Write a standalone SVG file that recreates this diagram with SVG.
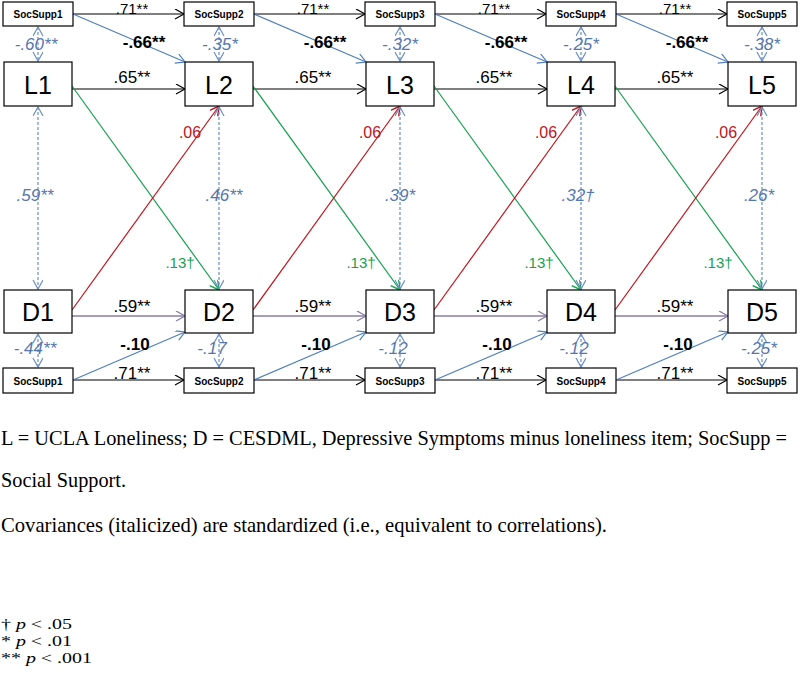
<svg xmlns="http://www.w3.org/2000/svg" width="800" height="681" viewBox="0 0 800 681">
<style>
.box{fill:#fff;stroke:#000;stroke-width:1.2}
.ss{font-family:"Liberation Sans",Arial,sans-serif;font-weight:bold;font-size:10px;text-anchor:middle}
.nd{font-family:"Liberation Sans",Arial,sans-serif;font-size:25px;text-anchor:middle}
.lb{font-family:"Liberation Sans",Arial,sans-serif;font-size:17px;text-anchor:middle;fill:#000}
.lt{font-family:"Liberation Sans",Arial,sans-serif;font-size:15px;text-anchor:middle;fill:#000}
.bd{font-family:"Liberation Sans",Arial,sans-serif;font-size:17px;font-weight:bold;text-anchor:middle;fill:#000}
.cv{font-family:"Liberation Sans",Arial,sans-serif;font-size:17px;font-style:italic;text-anchor:middle;fill:#5677ad}
.rd{font-family:"Liberation Sans",Arial,sans-serif;font-size:16px;text-anchor:middle;fill:#c0141c}
.gr{font-family:"Liberation Sans",Arial,sans-serif;font-size:15px;text-anchor:middle;fill:#16a050}
.tx{font-family:"Liberation Serif","Times New Roman",serif;font-size:21px;fill:#000}
.t1{font-family:"Liberation Serif","Times New Roman",serif;font-size:20px;fill:#000}
.fn{font-family:"Liberation Serif","Times New Roman",serif;font-size:15px;fill:#000}
.k{fill:none;stroke:#000;stroke-width:1.2;marker-end:url(#mk)}
.b{fill:none;stroke:#4f7fbd;stroke-width:1.2;marker-end:url(#mb)}
.g{fill:none;stroke:#17a04e;stroke-width:1.2;marker-end:url(#mg)}
.r{fill:none;stroke:#c0141c;stroke-width:1.2;marker-end:url(#mr)}
.p{fill:none;stroke:#8a7ea6;stroke-width:1.5;marker-end:url(#mp)}
.c{fill:none;stroke:#6a8fc6;stroke-width:1.2;stroke-dasharray:3 2;marker-start:url(#mc);marker-end:url(#mc)}
</style>
<defs>
<marker id="mk" markerUnits="userSpaceOnUse" markerWidth="12" markerHeight="12" refX="10" refY="5" orient="auto"><path d="M1,0 L10,5 L1,10" fill="none" stroke="#000" stroke-width="1.2"/></marker>
<marker id="mb" markerUnits="userSpaceOnUse" markerWidth="12" markerHeight="12" refX="10" refY="5" orient="auto"><path d="M1,0 L10,5 L1,10" fill="none" stroke="#4f7fbd" stroke-width="1.2"/></marker>
<marker id="mg" markerUnits="userSpaceOnUse" markerWidth="12" markerHeight="12" refX="10" refY="5" orient="auto"><path d="M1,0 L10,5 L1,10" fill="none" stroke="#17a04e" stroke-width="1.5"/></marker>
<marker id="mr" markerUnits="userSpaceOnUse" markerWidth="12" markerHeight="12" refX="10" refY="5" orient="auto"><path d="M1,0 L10,5 L1,10" fill="none" stroke="#c0141c" stroke-width="1.5"/></marker>
<marker id="mp" markerUnits="userSpaceOnUse" markerWidth="12" markerHeight="12" refX="10" refY="5" orient="auto"><path d="M1,0 L10,5 L1,10" fill="none" stroke="#8a7ea6" stroke-width="1.3"/></marker>
<marker id="mc" markerUnits="userSpaceOnUse" markerWidth="12" markerHeight="12" refX="10" refY="5" orient="auto-start-reverse"><path d="M1,0 L10,5 L1,10" fill="none" stroke="#6a8fc6" stroke-width="1.2"/></marker>
</defs>

<g id="connectors">
<path class="k" d="M73,14 H184"/><path class="k" d="M254,14 H365"/><path class="k" d="M435,14 H546"/><path class="k" d="M616,14 H727"/>
<path class="b" d="M73,14 L185,62"/><path class="b" d="M254,14 L366,62"/><path class="b" d="M435,14 L547,62"/><path class="b" d="M616,14 L728,62"/>
<path class="c" d="M38,27 V61"/><path class="c" d="M219,27 V61"/><path class="c" d="M400,27 V61"/><path class="c" d="M581,27 V61"/><path class="c" d="M762,27 V61"/>
<path class="k" d="M72,89 H185"/><path class="k" d="M253,89 H366"/><path class="k" d="M434,89 H547"/><path class="k" d="M615,89 H728"/>
<path class="g" d="M72,86 L219,290"/><path class="g" d="M253,86 L400,290"/><path class="g" d="M434,86 L581,290"/><path class="g" d="M615,86 L762,290"/>
<path class="r" d="M72,310 L219,106"/><path class="r" d="M253,310 L400,106"/><path class="r" d="M434,310 L581,106"/><path class="r" d="M615,310 L762,106"/>
<path class="c" d="M38,107 V289"/><path class="c" d="M219,107 V289"/><path class="c" d="M400,107 V289"/><path class="c" d="M581,107 V289"/><path class="c" d="M762,107 V289"/>
<path class="p" d="M72,316 H185"/><path class="p" d="M253,316 H366"/><path class="p" d="M434,316 H547"/><path class="p" d="M615,316 H728"/>
<path class="c" d="M38,334 V367"/><path class="c" d="M219,334 V367"/><path class="c" d="M400,334 V367"/><path class="c" d="M581,334 V367"/><path class="c" d="M762,334 V367"/>
<path class="k" d="M73,380 H184"/><path class="k" d="M254,380 H365"/><path class="k" d="M435,380 H546"/><path class="k" d="M616,380 H727"/>
<path class="b" d="M73,380 L185,332"/><path class="b" d="M254,380 L366,332"/><path class="b" d="M435,380 L547,332"/><path class="b" d="M616,380 L728,332"/>
</g>

<g id="labels">
<text class="lt" x="132" y="14">.71**</text><text class="lt" x="313" y="14">.71**</text><text class="lt" x="494" y="14">.71**</text><text class="lt" x="675" y="14">.71**</text>
<text class="bd" x="144" y="48">-.66**</text><text class="bd" x="325" y="48">-.66**</text><text class="bd" x="506" y="48">-.66**</text><text class="bd" x="687" y="48">-.66**</text>
<text class="cv" x="36" y="50">-.60**</text><text class="cv" x="220" y="50">-.35*</text><text class="cv" x="400" y="50">-.32*</text><text class="cv" x="581" y="50">-.25*</text><text class="cv" x="762" y="50">-.38*</text>
<text class="lb" x="132" y="83">.65**</text><text class="lb" x="313" y="83">.65**</text><text class="lb" x="494" y="83">.65**</text><text class="lb" x="675" y="83">.65**</text>
<text class="rd" x="190" y="138">.06</text><text class="rd" x="370" y="138">.06</text><text class="rd" x="546" y="138">.06</text><text class="rd" x="726" y="138">.06</text>
<text class="cv" x="35" y="201">.59**</text><text class="cv" x="224" y="201">.46**</text><text class="cv" x="400" y="201">.39*</text><text class="cv" x="578" y="201">.32†</text><text class="cv" x="759" y="201">.26*</text>
<text class="gr" x="180" y="268">.13†</text><text class="gr" x="361" y="268">.13†</text><text class="gr" x="539" y="268">.13†</text><text class="gr" x="718" y="268">.13†</text>
<text class="lb" x="132" y="312">.59**</text><text class="lb" x="313" y="312">.59**</text><text class="lb" x="494" y="312">.59**</text><text class="lb" x="675" y="312">.59**</text>
<text class="bd" x="135" y="350">-.10</text><text class="bd" x="316" y="350">-.10</text><text class="bd" x="497" y="350">-.10</text><text class="bd" x="678" y="350">-.10</text>
<text class="cv" x="35" y="354">-.44**</text><text class="cv" x="212" y="354">-.17</text><text class="cv" x="393" y="354">-.12</text><text class="cv" x="574" y="354">-.12</text><text class="cv" x="759" y="354">-.25*</text>
<text class="lb" x="132" y="379">.71**</text><text class="lb" x="313" y="379">.71**</text><text class="lb" x="494" y="379">.71**</text><text class="lb" x="675" y="379">.71**</text>
</g>

<g id="SS1t"><rect class="box" x="3" y="2" width="70" height="24"/><text class="ss" x="38" y="18">SocSupp1</text></g>
<g id="SS2t"><rect class="box" x="184" y="2" width="70" height="24"/><text class="ss" x="219" y="18">SocSupp2</text></g>
<g id="SS3t"><rect class="box" x="365" y="2" width="70" height="24"/><text class="ss" x="400" y="18">SocSupp3</text></g>
<g id="SS4t"><rect class="box" x="546" y="2" width="70" height="24"/><text class="ss" x="581" y="18">SocSupp4</text></g>
<g id="SS5t"><rect class="box" x="727" y="2" width="70" height="24"/><text class="ss" x="762" y="18">SocSupp5</text></g>

<g id="L1"><rect class="box" x="4" y="62" width="68" height="44"/><text class="nd" x="38" y="94">L1</text></g>
<g id="L2"><rect class="box" x="185" y="62" width="68" height="44"/><text class="nd" x="219" y="94">L2</text></g>
<g id="L3"><rect class="box" x="366" y="62" width="68" height="44"/><text class="nd" x="400" y="94">L3</text></g>
<g id="L4"><rect class="box" x="547" y="62" width="68" height="44"/><text class="nd" x="581" y="94">L4</text></g>
<g id="L5"><rect class="box" x="728" y="62" width="68" height="44"/><text class="nd" x="762" y="94">L5</text></g>

<g id="D1"><rect class="box" x="4" y="290" width="68" height="43"/><text class="nd" x="38" y="321">D1</text></g>
<g id="D2"><rect class="box" x="185" y="290" width="68" height="43"/><text class="nd" x="219" y="321">D2</text></g>
<g id="D3"><rect class="box" x="366" y="290" width="68" height="43"/><text class="nd" x="400" y="321">D3</text></g>
<g id="D4"><rect class="box" x="547" y="290" width="68" height="43"/><text class="nd" x="581" y="321">D4</text></g>
<g id="D5"><rect class="box" x="728" y="290" width="68" height="43"/><text class="nd" x="762" y="321">D5</text></g>

<g id="SS1b"><rect class="box" x="3" y="368" width="70" height="25"/><text class="ss" x="38" y="385">SocSupp1</text></g>
<g id="SS2b"><rect class="box" x="184" y="368" width="70" height="25"/><text class="ss" x="219" y="385">SocSupp2</text></g>
<g id="SS3b"><rect class="box" x="365" y="368" width="70" height="25"/><text class="ss" x="400" y="385">SocSupp3</text></g>
<g id="SS4b"><rect class="box" x="546" y="368" width="70" height="25"/><text class="ss" x="581" y="385">SocSupp4</text></g>
<g id="SS5b"><rect class="box" x="727" y="368" width="70" height="25"/><text class="ss" x="762" y="385">SocSupp5</text></g>

<g id="notes">
<text class="t1" x="1" y="445" textLength="786" lengthAdjust="spacingAndGlyphs">L = UCLA Loneliness; D = CESDML, Depressive Symptoms minus loneliness item; SocSupp =</text>
<text class="tx" x="1" y="487" textLength="125" lengthAdjust="spacingAndGlyphs">Social Support.</text>
<text class="tx" x="1" y="532" textLength="606" lengthAdjust="spacingAndGlyphs">Covariances (italicized) are standardized (i.e., equivalent to correlations).</text>
<text class="fn" x="1" y="629" textLength="71" lengthAdjust="spacingAndGlyphs">† <tspan font-style="italic">p</tspan> &lt; .05</text>
<text class="fn" x="1" y="646" textLength="71" lengthAdjust="spacingAndGlyphs">* <tspan font-style="italic">p</tspan> &lt; .01</text>
<text class="fn" x="1" y="663" textLength="91" lengthAdjust="spacingAndGlyphs">** <tspan font-style="italic">p</tspan> &lt; .001</text>
</g>
</svg>
